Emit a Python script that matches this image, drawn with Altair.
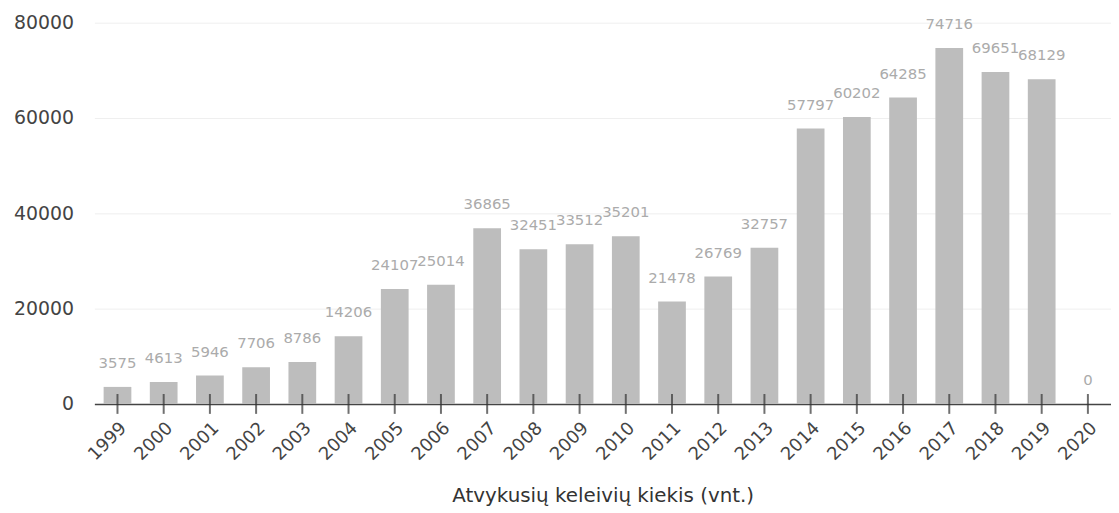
import altair as alt
import pandas as pd

years = [str(y) for y in range(1999, 2021)]
values = [3575, 4613, 5946, 7706, 8786, 14206, 24107, 25014, 36865, 32451,
          33512, 35201, 21478, 26769, 32757, 57797, 60202, 64285, 74716,
          69651, 68129, 0]

df = pd.DataFrame({"year": years, "value": values})

FONT = "DejaVu Sans"

x = alt.X("year:N", sort=years,
          scale=alt.Scale(paddingInner=0.4, paddingOuter=0.2),
          axis=alt.Axis(title="Atvykusių keleivių kiekis (vnt.)", labelAngle=-45,
                        ticks=False, domainColor="#444", domainWidth=1.5,
                        labelFont=FONT, labelFontSize=18, labelColor="#444",
                        labelPadding=15, titleFont=FONT, titleFontSize=20,
                        titleFontWeight="normal", titleColor="#333",
                        titlePadding=22))
y = alt.Y("value:Q", scale=alt.Scale(domain=[0, 80000]),
          axis=alt.Axis(title=None, values=[0, 20000, 40000, 60000, 80000],
                        format="d", domain=False, ticks=False, labelFont=FONT,
                        labelFontSize=19, labelColor="#444", labelPadding=21,
                        gridColor="#efefef", gridWidth=1))

base = alt.Chart(df)
bars = base.mark_bar(color="#bdbdbd").encode(x=x, y=y)
labels = base.mark_text(baseline="bottom", dy=-16, font=FONT, fontSize=15,
                        color="#ababab").encode(x=x, y=y, text="value:Q")
ticks = base.mark_tick(orient="vertical", size=20, thickness=2,
                       color="#333").encode(x=x, y=alt.datum(0))

chart = (bars + labels + ticks).properties(
    width=1024, height=384,
    autosize=alt.AutoSizeParams(type="none"),
    padding={"left": 87, "top": 13, "right": 0, "bottom": 104},
).configure_view(stroke=None)

chart.save("out.html", embed_options={"renderer": "svg", "actions": False})
